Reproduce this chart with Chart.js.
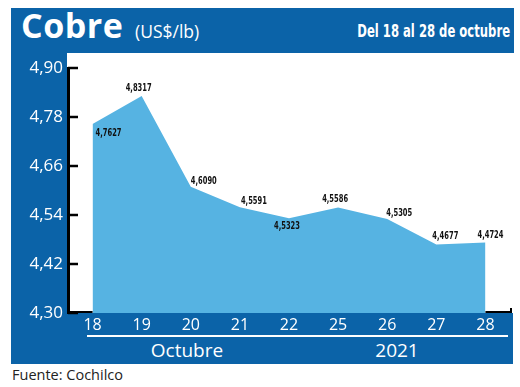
<!DOCTYPE html>
<html>
<head>
<meta charset="utf-8">
<script src="https://cdn.jsdelivr.net/npm/chart.js@4.4.0/dist/chart.umd.min.js"></script>
<style>
  body { margin: 0; background: #fff; }
  .wrap { position: relative; width: 520px; height: 387px; overflow: hidden; font-family: "Open Sans", sans-serif; }
  .blue { position: absolute; background: #0b63a8; }
  .txt { position: absolute; white-space: nowrap; color: #fff; }
  canvas { position: absolute; left: 0; top: 0; }
</style>
</head>
<body>
<div class="wrap">
  <div class="blue" style="left:11px;top:8px;width:503px;height:45px"></div>
  <div class="blue" style="left:11px;top:8px;width:56px;height:356px"></div>
  <div class="blue" style="left:11px;top:313px;width:502px;height:51px"></div>
  <div style="position:absolute;left:87px;top:335px;width:421px;height:2px;background:#fff"></div>

  <div class="txt" style="left:21px;top:2px;font-size:34px;font-weight:700;letter-spacing:0.5px">Cobre</div>
  <div class="txt" style="left:135px;top:19px;font-size:17.5px">(US$/lb)</div>
  <div class="txt" style="right:10px;top:21px;font-family:'DejaVu Sans Condensed',sans-serif;font-size:17px;font-weight:700;transform:scaleX(0.76);transform-origin:right center">Del 18 al 28 de octubre</div>
  <div class="txt" style="left:187px;top:337px;transform:translateX(-50%);font-size:19px">Octubre</div>
  <div class="txt" style="left:397px;top:337px;transform:translateX(-50%);font-size:19px">2021</div>
  <div class="txt" style="left:12px;top:365px;font-size:14.5px;color:#222">Fuente: Cochilco</div>

  <canvas id="cobreChart" width="520" height="387"></canvas>
</div>
<script>
const days = ["18", "19", "20", "21", "22", "25", "26", "27", "28"];
const prices = [4.7627, 4.8317, 4.6090, 4.5591, 4.5323, 4.5586, 4.5305, 4.4677, 4.4724];
const yTicks = [4.30, 4.42, 4.54, 4.66, 4.78, 4.90];

// where each value label sits relative to its point (px)
const labelOffsets = [[16, 9], [-3, -8], [13, -6], [14, -6], [-2, 8], [-3, -8], [12, -6], [9, -8], [5, -7]];

const comma = (v, d) => v.toFixed(d).replace(".", ",");

const decoPlugin = {
  id: "deco",
  afterDatasetsDraw(chart) {
    const ctx = chart.ctx;
    const xs = chart.scales.x;
    const ys = chart.scales.y;
    const area = chart.chartArea;
    ctx.save();
    // y ticks pointing inward
    ctx.strokeStyle = "#000";
    ctx.lineWidth = 2.5;
    yTicks.forEach(v => {
      const y = ys.getPixelForValue(v);
      ctx.beginPath();
      ctx.moveTo(area.left, y);
      ctx.lineTo(area.left + 10, y);
      ctx.stroke();
    });
    // baseline outside the filled area
    const x0 = xs.getPixelForValue(0);
    const x1 = xs.getPixelForValue(days.length - 1);
    ctx.lineWidth = 2;
    ctx.beginPath();
    ctx.moveTo(area.left, area.bottom - 1);
    ctx.lineTo(x0, area.bottom - 1);
    ctx.moveTo(x1, area.bottom - 1);
    ctx.lineTo(area.right + 1, area.bottom - 1);
    ctx.lineTo(area.right + 1, area.bottom - 5);
    ctx.stroke();
    // value labels, condensed
    ctx.fillStyle = "#111";
    ctx.font = "bold 11px 'DejaVu Sans Condensed', sans-serif";
    ctx.textAlign = "center";
    ctx.textBaseline = "middle";
    const meta = chart.getDatasetMeta(0);
    meta.data.forEach((pt, i) => {
      ctx.save();
      ctx.translate(pt.x + labelOffsets[i][0], pt.y + labelOffsets[i][1]);
      ctx.scale(0.68, 1);
      ctx.fillText(comma(prices[i], 4), 0, 0);
      ctx.restore();
    });
    ctx.restore();
  }
};

const config = {
  type: "line",
  data: {
    labels: days,
    datasets: [
      {
        data: prices,
        fill: "start",
        backgroundColor: "#56b3e2",
        borderWidth: 0,
        pointRadius: 0,
        tension: 0,
      },
    ],
  },
  options: {
    responsive: false,
    animation: false,
    devicePixelRatio: 1,
    layout: { padding: { left: 0, right: 10, top: 68, bottom: 44 } },
    plugins: { legend: { display: false }, tooltip: { enabled: false } },
    scales: {
      x: {
        offset: true,
        grid: { drawOnChartArea: false, drawTicks: false },
        border: { display: false },
        ticks: { color: "#fff", font: { family: "Open Sans", size: 16 }, padding: 3 },
        afterFit: s => { s.height = 30; },
      },
      y: {
        min: 4.30,
        max: 4.90,
        afterBuildTicks: s => { s.ticks = yTicks.map(v => ({ value: v })); },
        grid: { drawOnChartArea: false, drawTicks: false },
        border: { display: true, color: "#000", width: 3 },
        ticks: {
          color: "#fff",
          padding: 5,
          font: { family: "Open Sans", size: 17 },
          callback: v => comma(v, 2),
        },
        afterFit: s => { s.width = 68; },
      },
    },
  },
  plugins: [decoPlugin],
};

var cobreChart = new Chart(document.getElementById("cobreChart"), config);
</script>
</body>
</html>
